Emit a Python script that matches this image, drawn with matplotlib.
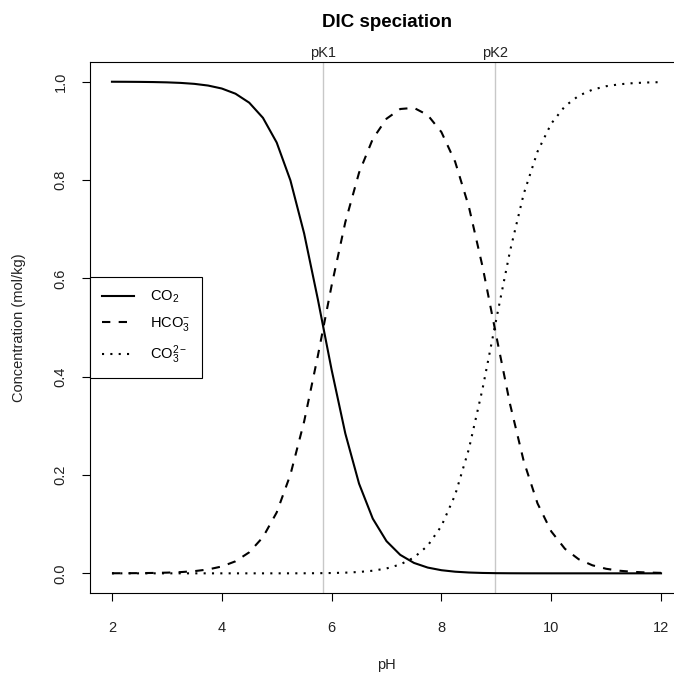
import matplotlib
matplotlib.use("Agg")
import matplotlib.pyplot as plt
from matplotlib.lines import Line2D

plt.rcParams['font.family'] = ['Liberation Sans', 'DejaVu Sans']
plt.rcParams['mathtext.default'] = 'regular'

# pH grid and fractions of each carbonate species
pH = [2.0, 2.25, 2.5, 2.75, 3.0, 3.25, 3.5, 3.75, 4.0, 4.25, 4.5, 4.75,
      5.0, 5.25, 5.5, 5.75, 6.0, 6.25, 6.5, 6.75, 7.0, 7.25, 7.5, 7.75,
      8.0, 8.25, 8.5, 8.75, 9.0, 9.25, 9.5, 9.75, 10.0, 10.25, 10.5, 10.75,
      11.0, 11.25, 11.5, 11.75, 12.0]
co2 = [0.99986, 0.99975, 0.99955, 0.99921, 0.99859, 0.99749, 0.99555, 0.99212,
       0.98607, 0.97550, 0.95724, 0.92641, 0.87623, 0.79924, 0.69123, 0.55716,
       0.41424, 0.28436, 0.18242, 0.11122, 0.06546, 0.03760, 0.02119, 0.01173,
       0.00635, 0.00333, 0.00167, 0.00078, 0.00034, 0.00014, 0.00005, 0.00002,
       0.0, 0.0, 0.0, 0.0, 0.0, 0.0, 0.0, 0.0, 0.0]
hco3 = [0.00014, 0.00025, 0.00045, 0.00079, 0.00141, 0.00251, 0.00445, 0.00788,
        0.01393, 0.02450, 0.04276, 0.07359, 0.12377, 0.20076, 0.30877, 0.44257,
        0.58513, 0.71428, 0.81482, 0.88346, 0.92464, 0.94441, 0.94673, 0.93210,
        0.89748, 0.83715, 0.74567, 0.62351, 0.48257, 0.34413, 0.22786, 0.14233,
        0.08536, 0.04986, 0.02867, 0.01632, 0.00925, 0.00522, 0.00294, 0.00166,
        0.00093]
co3 = [0.0, 0.0, 0.0, 0.0, 0.0, 0.0, 0.0, 0.0,
       0.0, 0.0, 0.0, 0.0, 0.00001, 0.00004, 0.0001, 0.00027,
       0.00063, 0.00136, 0.00276, 0.00532, 0.00991, 0.01800, 0.03208, 0.05616,
       0.09617, 0.15952, 0.25266, 0.37570, 0.51709, 0.65573, 0.77209, 0.85765,
       0.91464, 0.95014, 0.97133, 0.98368, 0.99075, 0.99478, 0.99706, 0.99834,
       0.99907]

pK = [5.85, 8.97]
pK_labels = ["pK1", "pK2"]
species = ["CO$_2$", "HCO$_3^{-}$", "CO$_3^{2-}$"]

fig = plt.figure(figsize=(6.74, 6.77), dpi=100)
ax = fig.add_axes([90/674, 84/677, 593/674, 531/677])

lw = 1.5
ax.plot(pH, co2, color='black', lw=lw, linestyle='-')
ax.plot(pH, hco3, color='black', lw=lw, linestyle=(0, (4, 4)))
ax.plot(pH, co3, color='black', lw=lw, linestyle=(0, (1, 3)))

# vertical markers at the dissociation constants
for k, lab in zip(pK, pK_labels):
    ax.axvline(k, color='#c8c8c8', lw=1, zorder=0)
    ax.annotate(lab, xy=(k, 1), xycoords=('data', 'axes fraction'),
                xytext=(0, 1.5), textcoords='offset points',
                ha='center', va='bottom', fontsize=10.5, color='#222222',
                annotation_clip=False)

ax.set_xlim(1.6, 12.4)
ax.set_ylim(-0.04, 1.04)
ax.set_xticks([2, 4, 6, 8, 10, 12])
ax.set_yticks([0.0, 0.2, 0.4, 0.6, 0.8, 1.0])
ax.set_yticklabels(["0.0", "0.2", "0.4", "0.6", "0.8", "1.0"], rotation=90, va='center')
ax.tick_params(direction='out', length=6, width=0.8, labelsize=10.5,
               labelcolor='#222222')
ax.tick_params(axis='x', pad=14)
ax.tick_params(axis='y', pad=10)
for s in ax.spines.values():
    s.set_linewidth(0.8)

ax.set_title("DIC speciation", fontsize=13.5, fontweight='bold', pad=25)
ax.set_xlabel("pH", fontsize=10.5, color='#222222', labelpad=17)
ax.set_ylabel("Concentration (mol/kg)", fontsize=10.5, color='#222222', labelpad=20)

handles = [Line2D([], [], color='black', lw=lw, linestyle='-'),
           Line2D([], [], color='black', lw=lw, linestyle=(0, (4, 4))),
           Line2D([], [], color='black', lw=lw, linestyle=(0, (1, 3)))]
leg = ax.legend(handles, species, loc='center left', bbox_to_anchor=(0, 0.5),
                fancybox=False, edgecolor='black', framealpha=1, fontsize=10.5,
                borderaxespad=0, handlelength=2.2, labelspacing=0.7,
                handletextpad=1.1, borderpad=0.8)
leg.get_frame().set_linewidth(0.8)

fig.savefig("out.png", dpi=100)
